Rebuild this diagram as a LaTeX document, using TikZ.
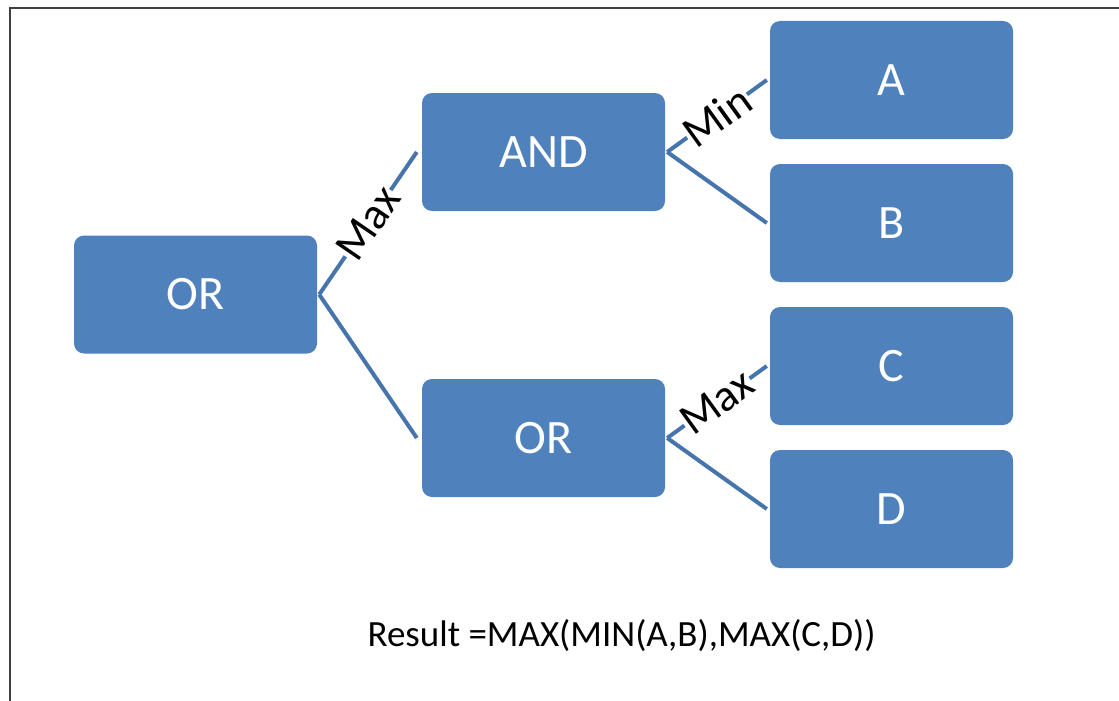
\documentclass[tikz,border=0pt]{standalone}
\usepackage{fontspec}
\setmainfont{Carlito}
\definecolor{boxblue}{HTML}{4F81BD}
\definecolor{linkblue}{HTML}{4675AE}
\definecolor{framegray}{HTML}{404040}
\begin{document}
\begin{tikzpicture}[x=1pt,y=-1pt,
  gate/.style={rectangle, rounded corners=10pt, fill=boxblue, text=white,
    minimum width=243pt, minimum height=118pt, inner sep=0pt,
    font=\fontsize{48}{58}\selectfont},
  conn/.style={draw=linkblue, line width=4pt},
  lbl/.style={sloped, pos=0.5, fill=white, text=black, inner sep=0.5pt,
    font=\fontsize{45}{54}\selectfont},
  formula/.style={anchor=base, inner sep=0pt, font=\fontsize{37}{44}\selectfont}]
  \useasboundingbox (0,0) rectangle (1119,701);
  % open frame: left and top edges only
  \coordinate (fbl) at (10,701);
  \coordinate (ftl) at (10,8);
  \coordinate (ftr) at (1119,8);
  \draw[framegray, line width=2pt] (fbl) -- (ftl) -- (ftr);

  % gate tree
  \node[gate] (root) at (195.5,294.5) {OR};
  \node[gate] (and)  at (543.5,152)   {AND};
  \node[gate] (or)   at (543.5,438)   {OR};
  \node[gate] (a)    at (891.5,80)    {A};
  \node[gate] (b)    at (891.5,223)   {B};
  \node[gate] (c)    at (891.5,366)   {C};
  \node[gate] (d)    at (891.5,509)   {D};

  % connectors, labelled ones broken by their labels
  \draw[conn] ([xshift=2pt]root.east) -- ([xshift=-5pt]and.west) node[lbl] {Max};
  \draw[conn] ([xshift=2pt]root.east) -- ([xshift=-5pt]or.west);
  \draw[conn] ([xshift=2pt]and.east) -- ([xshift=-3pt]a.west) node[lbl] {Min};
  \draw[conn] ([xshift=2pt]and.east) -- ([xshift=-3pt]b.west);
  \draw[conn] ([xshift=2pt]or.east) -- ([xshift=-3pt]c.west) node[lbl] {Max};
  \draw[conn] ([xshift=2pt]or.east) -- ([xshift=-3pt]d.west);

  % formula
  \node[formula] (result) at (621.5,646) {Result =MAX(MIN(A,B),MAX(C,D))};
\end{tikzpicture}
\end{document}
